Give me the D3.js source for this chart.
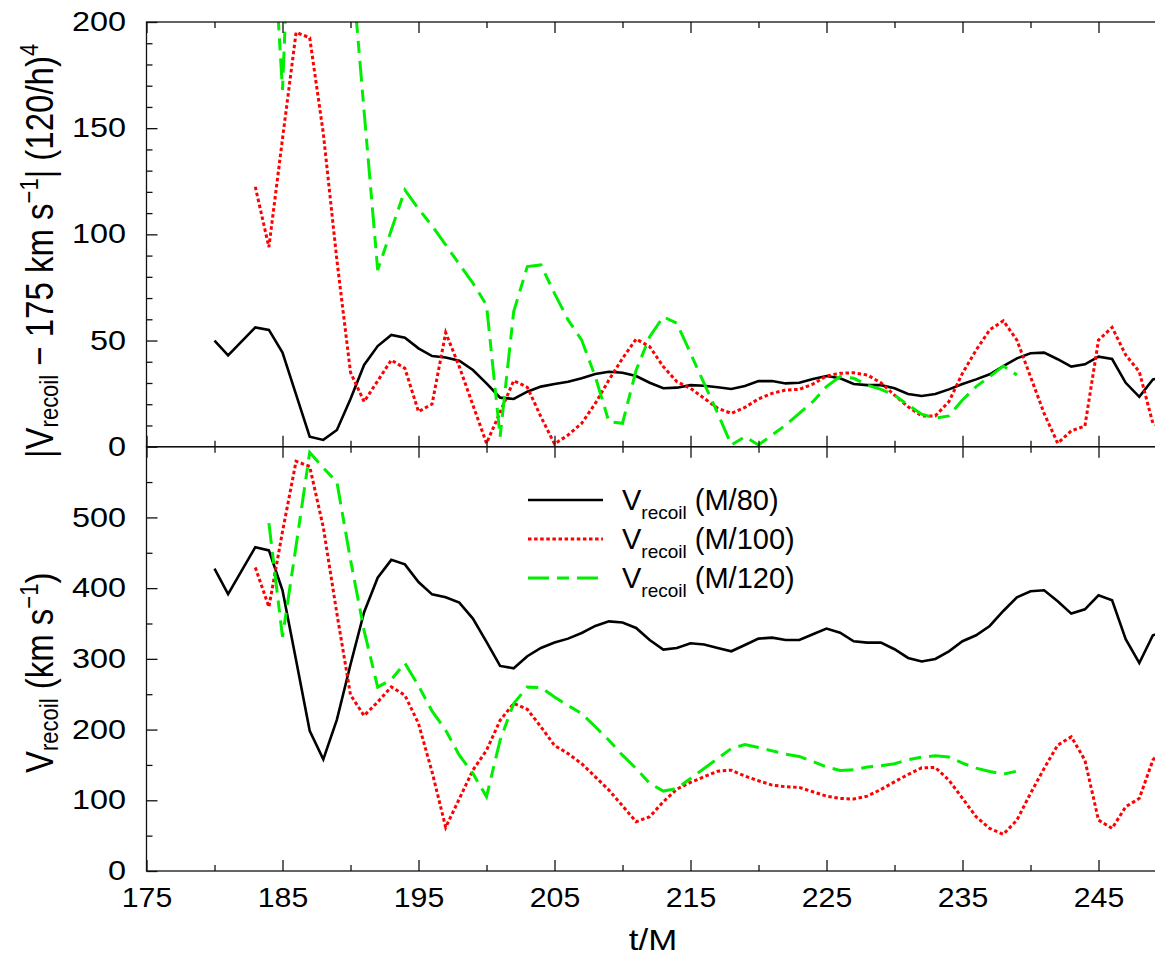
<!DOCTYPE html>
<html><head><meta charset="utf-8">
<script src="https://cdn.jsdelivr.net/npm/d3@7"></script>
<style>
body{margin:0;background:#fff}
svg{display:block}
text{font-family:"Liberation Sans",Arial,Helvetica,sans-serif;fill:#000}
</style></head>
<body><svg id="c" width="1155" height="957"></svg>
<script>
// ---- data (t/M sample times start values) ----
const tBlackStart = 180, tBlackEnd = 250;
const tRedStart = 183, tRedEnd = 250;
const tGreenStart = 184, tGreenEnd = 239;

const blackTop = [50,43,49.6,56.2,55,44.3,24.5,4.7,3.2,7.9,
22.5,38.5,47.4,52.6,51.3,46.3,42.7,42,40.5,36.1,
29.8,23.1,22.5,25.9,28.3,29.5,30.6,32.2,34.2,35.3,
34.8,33.3,30.1,27.5,27.8,29,28.7,28,27.2,28.6,
30.9,30.9,29.8,30.1,31.9,33.3,32.2,29.5,29,29,
27.5,24.8,23.9,24.8,27,29.5,31.7,34.1,38,41.6,
44,44.3,41.2,37.7,38.8,42.4,41.3,30.1,23.5,31.7,
33];
const blackBot = [427.5,391.5,424.7,458,453.4,396.9,298,198.2,157.8,214,
292,366,414.8,440,433.6,408.6,391.2,387,379.5,357,
323.9,290,286.7,303.7,315.4,323,328.6,336.6,346.5,353,
351.3,343.7,326.6,313,315.4,322,320.2,315.4,310.7,319.6,
328.6,330,326.6,326.6,334.7,342.8,337,324.9,323,323,
313.6,301.3,296.2,299.9,310.7,324.9,333.3,346.5,367.7,386.9,
395.5,396.9,381.4,364,370,389.8,382.8,327.7,294.2,333.3,
340];
const redTop = [122.4,94,145,195.1,192.6,147.6,87.8,
35,21.2,31,40.8,36.9,16.5,20.1,53.7,37.7,19.6,
1.6,16.2,31.1,28,14.1,1.3,5.5,11,20.4,31.4,
41.6,50.7,47.1,37.7,30.6,27.5,22.8,18.1,15.7,18.5,
22.5,25.1,26.7,27,29.5,33.3,34.6,34.8,33.8,30.1,
24.3,18.8,14.5,14.5,21.2,34.6,45.5,55,59.3,50.2,
33,15.7,1.6,7.5,9.7,50.2,56.2,43.2,35.3,11,
8];
const redBot = [429.3,373.3,480,579.5,572,486,364,
249,219.6,239,260.3,248.6,208.6,140,61.7,102,142.6,
170.6,213,237,228.6,204,177.5,166,151.7,133.2,114.4,
92.2,69.6,76.7,97.9,115.8,125.2,133.2,141.2,142.6,134.2,
127.6,121.5,119.1,118.2,112,105.9,102.7,101.7,105.9,115.3,
126.1,136.5,145.9,146.4,128.5,102.7,76.7,60.3,51.8,72,
109.7,145,178,189.7,156.8,72,60.3,90.8,102.7,156.8,
180];
const greenTop = [275,168,328,420,395,375,
234,158,83.2,102,120.9,112,104,95,86,77,
66.7,4.7,63.6,84.8,85.6,72.2,59.7,50.2,33,11.8,
11,36,51.8,61.2,58.1,44,29.8,15.8,0.8,4.7,
0.8,5.5,10.2,15.7,21.2,28.3,33,32.2,29,27,
24.3,19.6,15.3,13.4,14.5,22,28.3,33,38,33.8];
const greenBot = [492,331,460,592,570,550,
440,340,260,270.6,294,262,226,199,163.8,138,
105,185,237,260,259.5,246,234,222.7,204,185,
163.8,145,123.8,113,116.7,130.9,145,159.1,173.2,178.8,
174.6,169.9,165.3,162,154.9,147,142.2,143.2,147,148.9,
151.7,157.3,161.1,162.9,161.1,152.6,145.5,140.7,137,141.2];

const xTickLabels = [175,185,195,205,215,225,235,245];
const xMinorTicks = [180,190,200,210,220,230,240,250];
const yTopMajor = [0,50,100,150,200];
const yTopMinor = [10,20,30,40,60,70,80,90,110,120,130,140,160,170,180,190];
const yBotMajor = [0,100,200,300,400,500];
const yBotMinor = [50,150,250,350,450,550];
const legendLabels = ["(M/80)","(M/100)","(M/120)"];

// ---- layout ----
const svg = d3.select("#c");
const L = 146.5, R = 1166.5, T1 = 22, M = 446.7, B2 = 871;
const x = d3.scaleLinear([175,250],[L,R]);
const yTop = d3.scaleLinear([0,200],[M,T1]);
const yBot = d3.scaleLinear([0,600],[B2,M]);

const defs = svg.append("defs");
defs.append("clipPath").attr("id","clipTop").append("rect")
  .attr("x",L).attr("y",T1).attr("width",R-L).attr("height",M-T1);
defs.append("clipPath").attr("id","clipBot").append("rect")
  .attr("x",L).attr("y",M).attr("width",R-L).attr("height",B2-M);

const styles = {
  black:{stroke:"#000",width:2.6,dash:null},
  red:{stroke:"#ff0000",width:3,dash:"3.5,2.6"},
  green:{stroke:"#00ee00",width:3,dash:"21,8,12,8"}
};

function zip(start, end, vals){
  const ts = d3.range(start, end+1);
  return ts.map((t,i)=>[t, vals[i]]);
}
function drawLine(g, data, yS, st){
  const line = d3.line().x(d=>x(d[0])).y(d=>yS(d[1]));
  g.append("path").datum(data).attr("d",line)
    .attr("fill","none").attr("stroke",st.stroke).attr("stroke-width",st.width)
    .attr("stroke-linejoin","miter").attr("stroke-dasharray",st.dash);
}
const gTop = svg.append("g").attr("clip-path","url(#clipTop)");
const gBot = svg.append("g").attr("clip-path","url(#clipBot)");

drawLine(gTop, zip(tBlackStart,tBlackEnd,blackTop), yTop, styles.black);
drawLine(gTop, zip(tRedStart,tRedEnd,redTop), yTop, styles.red);
drawLine(gTop, zip(tGreenStart,tGreenEnd,greenTop), yTop, styles.green);
drawLine(gBot, zip(tBlackStart,tBlackEnd,blackBot), yBot, styles.black);
drawLine(gBot, zip(tRedStart,tRedEnd,redBot), yBot, styles.red);
drawLine(gBot, zip(tGreenStart,tGreenEnd,greenBot), yBot, styles.green);

// ---- axes ----
const axCol = "#111", axW = 1.3, MAJ = 11, MIN = 6;
function styleAxis(g){
  g.select(".domain").remove();
  g.selectAll(".tick line").attr("stroke",axCol).attr("stroke-width",axW);
  g.selectAll("text").attr("font-size",27).attr("font-family",null).attr("fill","#000");
}
function add(axis, tx, ty){
  const g = svg.append("g").attr("transform",`translate(${tx},${ty})`).call(axis);
  styleAxis(g); return g;
}
// y top
const gyT = add(d3.axisLeft(yTop).tickValues(yTopMajor).tickSize(-MAJ).tickPadding(20.5), L, 0);
add(d3.axisLeft(yTop).tickValues(yTopMinor).tickSize(-MIN).tickFormat(""), L, 0);
add(d3.axisRight(yTop).tickValues(yTopMajor).tickSize(-MAJ).tickFormat(""), R, 0);
add(d3.axisRight(yTop).tickValues(yTopMinor).tickSize(-MIN).tickFormat(""), R, 0);
// y bottom
const gyB = add(d3.axisLeft(yBot).tickValues(yBotMajor).tickSize(-MAJ).tickPadding(20.5), L, 0);
add(d3.axisLeft(yBot).tickValues(yBotMinor).tickSize(-MIN).tickFormat(""), L, 0);
add(d3.axisRight(yBot).tickValues(yBotMajor).tickSize(-MAJ).tickFormat(""), R, 0);
add(d3.axisRight(yBot).tickValues(yBotMinor).tickSize(-MIN).tickFormat(""), R, 0);
// scale y labels horizontally about their right edge
[gyT, gyB].forEach(g=>{
  g.selectAll(".tick text").attr("transform",function(){
    const xx = +d3.select(this).attr("x");
    return `translate(${xx},0) scale(1.2,1) translate(${-xx},0)`;
  });
});
// the shared boundary: hide top "0" overlap handled by both labels
// x ticks
const gxB = add(d3.axisBottom(x).tickValues(xTickLabels).tickSize(-MAJ).tickPadding(16).tickFormat(d3.format("d")), 0, B2);
add(d3.axisBottom(x).tickValues(xMinorTicks).tickSize(-MIN).tickFormat(""), 0, B2);
gxB.selectAll(".tick text").attr("font-size",28).attr("transform","scale(1.08,1)");
[[T1,"top"],[M,"top"],[M,"bottom"]].forEach(([yy,dir])=>{
  const mk = dir==="top" ? d3.axisTop : d3.axisBottom;
  add(mk(x).tickValues(xTickLabels).tickSize(-MAJ).tickFormat(""), 0, yy);
  add(mk(x).tickValues(xMinorTicks).tickSize(-MIN).tickFormat(""), 0, yy);
});
// frames
svg.append("rect").attr("x",L).attr("y",T1).attr("width",R-L).attr("height",M-T1)
  .attr("fill","none").attr("stroke",axCol).attr("stroke-width",axW);
svg.append("rect").attr("x",L).attr("y",M).attr("width",R-L).attr("height",B2-M)
  .attr("fill","none").attr("stroke",axCol).attr("stroke-width",axW);

// ---- axis titles ----
svg.append("text").attr("x",653).attr("y",950).attr("text-anchor","middle")
  .attr("font-size",29).attr("transform","translate(653,0) scale(1.2,1) translate(-653,0)").text("t/M");

function title(tx, ty, parts){
  const t = svg.append("text").attr("transform",`translate(${tx},${ty}) scale(1.2,1) rotate(-90)`)
    .attr("font-size",33);
  parts.forEach(p=>{
    t.append("tspan").attr("font-size",p.s||33).attr("dy",p.dy||0).text(p.t);
  });
}
title(53.3, 458, [
  {t:"|V"},{t:"recoil",s:22,dy:4},{t:" \u2212 175 km s",dy:-4},
  {t:"\u22121",s:22,dy:-13},{t:"| (120/h)",dy:13},{t:"4",s:22,dy:-13}
]);
title(53.3, 773, [
  {t:"V"},{t:"recoil",s:22,dy:4},{t:" (km s",dy:-4},
  {t:"\u22121",s:22,dy:-13},{t:")",dy:13}
]);

// ---- legend ----
const legY = [500, 539, 578];
const legSt = [styles.black, styles.red, styles.green];
legendLabels.forEach((lab,i)=>{
  svg.append("line").attr("x1",528).attr("x2",603).attr("y1",legY[i]).attr("y2",legY[i])
    .attr("stroke",legSt[i].stroke).attr("stroke-width",legSt[i].width)
    .attr("stroke-dasharray",legSt[i].dash);
  const t = svg.append("text").attr("x",622).attr("y",legY[i]+10).attr("font-size",29);
  t.append("tspan").text("V");
  t.append("tspan").attr("font-size",19).attr("dy",9).text("recoil");
  t.append("tspan").attr("dy",-9).text(" "+lab);
});
</script></body></html>
